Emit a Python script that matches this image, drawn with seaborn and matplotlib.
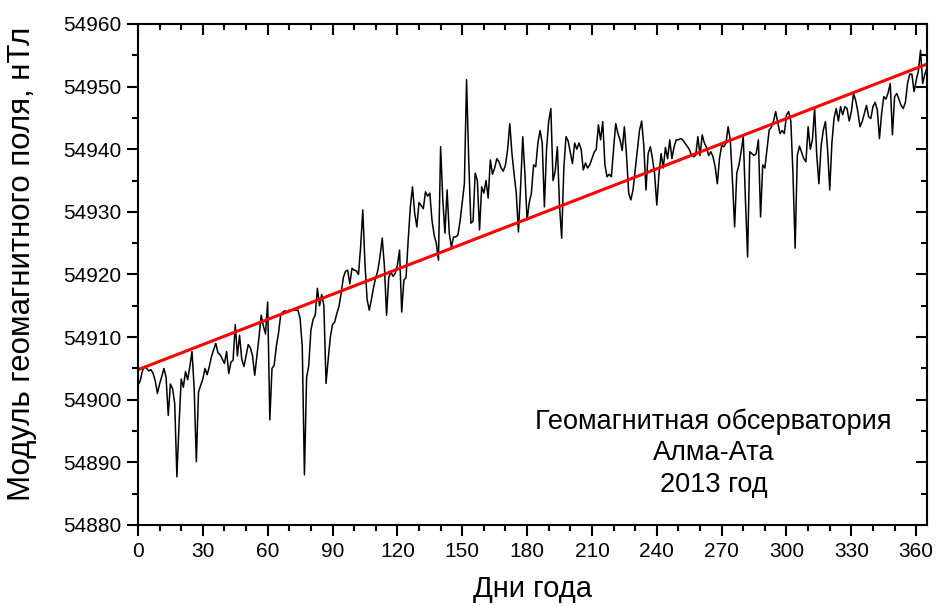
import numpy as np
import pandas as pd
import matplotlib
matplotlib.use("Agg")
import matplotlib.pyplot as plt
import seaborn as sns
from matplotlib.ticker import MultipleLocator

# Daily values of the geomagnetic field modulus, nT (day 0..365)
field_values = [
    54902.3, 54903.0, 54904.5, 54905.3, 54905.0, 54904.6, 54904.8, 54904.2, 54903.0, 54901.0,
    54902.5, 54903.7, 54905.0, 54903.6, 54897.5, 54902.5, 54901.8, 54899.4, 54887.7, 54896.0,
    54903.3, 54902.0, 54904.5, 54903.2, 54905.3, 54907.7, 54901.8, 54890.1, 54901.2, 54902.3,
    54903.3, 54905.0, 54904.0, 54905.3, 54906.9, 54908.0, 54909.0, 54907.5, 54907.2, 54906.5,
    54905.8, 54907.7, 54904.2, 54906.0, 54906.3, 54912.0, 54907.0, 54910.3, 54906.5, 54905.3,
    54907.0, 54908.8, 54908.3, 54907.0, 54903.9, 54907.0, 54910.0, 54913.5, 54911.8, 54910.5,
    54915.6, 54896.8, 54905.0, 54905.5, 54908.5, 54910.6, 54913.5, 54914.0, 54914.2, 54914.0,
    54914.3, 54914.3, 54914.3, 54914.3, 54914.3, 54913.0, 54908.5, 54888.0, 54903.5, 54905.5,
    54911.1, 54912.8, 54913.5, 54917.8, 54915.0, 54916.8, 54915.0, 54902.6, 54906.5, 54910.0,
    54912.0, 54912.4, 54913.8, 54914.9, 54917.0, 54919.5, 54920.5, 54920.7, 54918.5, 54921.0,
    54920.7, 54920.6, 54920.0, 54924.4, 54930.3, 54921.8, 54916.0, 54914.3, 54916.0, 54918.0,
    54919.5, 54920.7, 54923.0, 54925.8, 54921.3, 54913.5, 54919.5, 54920.4, 54919.7, 54920.2,
    54921.5, 54923.9, 54914.0, 54919.1, 54919.5, 54925.5, 54930.8, 54934.0, 54929.8, 54927.6,
    54931.5, 54931.0, 54930.5, 54933.2, 54932.5, 54933.0, 54928.7, 54926.3, 54925.0, 54922.3,
    54940.4, 54932.0, 54926.6, 54933.5, 54926.6, 54924.4, 54926.0, 54926.0, 54926.3, 54928.5,
    54931.5, 54934.5, 54951.1, 54938.3, 54928.2, 54928.5, 54936.2, 54935.0, 54927.1, 54934.0,
    54933.0, 54935.0, 54932.2, 54938.3, 54936.0, 54937.0, 54938.5, 54938.0, 54937.0, 54936.5,
    54937.5, 54940.0, 54944.1, 54939.3, 54936.0, 54933.0, 54926.8, 54934.0, 54942.0, 54936.0,
    54928.7, 54931.5, 54933.0, 54937.5, 54937.2, 54941.0, 54943.0, 54941.0, 54930.8, 54940.0,
    54944.5, 54946.5, 54935.0, 54936.5, 54940.4, 54931.0, 54925.8, 54937.0, 54942.0, 54941.3,
    54939.5, 54937.7, 54941.0, 54940.0, 54941.0, 54940.0, 54936.7, 54937.8, 54937.0, 54937.5,
    54938.5, 54939.5, 54940.0, 54943.9, 54941.5, 54944.4, 54937.5, 54935.6, 54936.0, 54935.6,
    54940.0, 54944.1, 54942.5, 54941.5, 54939.8, 54943.6, 54939.0, 54933.0, 54931.9, 54933.5,
    54936.7, 54940.0, 54943.0, 54944.5, 54940.5, 54933.5, 54939.3, 54940.4, 54938.5, 54936.0,
    54931.1, 54936.0, 54939.3, 54937.0, 54940.3, 54938.5, 54941.5, 54938.5, 54940.4, 54941.5,
    54941.5, 54941.7, 54941.5, 54941.0, 54940.5, 54940.0, 54939.1, 54938.8, 54939.0, 54942.0,
    54939.0, 54942.3, 54941.0, 54940.3, 54939.0, 54939.6, 54938.8, 54937.2, 54934.5, 54938.5,
    54940.6, 54940.4, 54941.0, 54943.6, 54941.5, 54935.0, 54927.6, 54936.2, 54937.5, 54939.6,
    54942.0, 54932.0, 54922.8, 54939.6, 54939.3, 54939.0, 54939.3, 54941.5, 54929.2, 54937.5,
    54937.0, 54940.0, 54943.1, 54943.5, 54944.5, 54946.0, 54944.2, 54942.5, 54943.0, 54942.5,
    54945.5, 54946.0, 54944.5, 54936.0, 54924.2, 54939.0, 54940.5, 54939.5, 54938.5, 54938.0,
    54943.6, 54940.0, 54941.5, 54946.5, 54939.0, 54934.5, 54940.5, 54943.0, 54944.4, 54940.0,
    54933.5, 54941.0, 54945.0, 54946.5, 54944.5, 54946.8, 54945.5, 54946.8, 54946.5, 54944.5,
    54946.0, 54948.9, 54947.8, 54946.0, 54943.6, 54944.4, 54945.7, 54947.0, 54945.2, 54944.9,
    54946.8, 54947.5, 54946.3, 54941.7, 54945.7, 54948.4, 54948.0, 54949.0, 54950.5, 54942.3,
    54948.4, 54948.9, 54948.0, 54947.0, 54946.5, 54947.5, 54950.5, 54952.0, 54952.0, 54949.2,
    54951.0, 54952.5, 54955.8, 54950.5, 54952.0, 54953.0,
]
days = list(range(len(field_values)))

# Linear trend (red line), endpoints
trend_days = [0, 365]
trend_values = [54904.8, 54953.6]

annotation = "Геомагнитная обсерватория\nАлма-Ата\n2013 год"

sns.set_theme(style="ticks")
plt.rcParams["font.family"] = ["Liberation Sans", "DejaVu Sans"]
plt.rcParams.update({
    "text.color": "black",
    "axes.labelcolor": "black",
    "xtick.color": "black",
    "ytick.color": "black",
})

fig = plt.figure(figsize=(9.36, 6.06), dpi=100)
ax = fig.add_axes([0.1474, 0.1337, 0.843, 0.8267])

data = pd.DataFrame({"day": days, "value": field_values})
trend = pd.DataFrame({"day": trend_days, "value": trend_values})

sns.lineplot(data=data, x="day", y="value", ax=ax, color="black", linewidth=1.1)
sns.lineplot(data=trend, x="day", y="value", ax=ax, color="#ff0000", linewidth=2.2)

ax.set_xlim(0, 365)
ax.set_ylim(54880, 54960)
ax.xaxis.set_major_locator(MultipleLocator(30))
ax.xaxis.set_minor_locator(MultipleLocator(10))
ax.yaxis.set_major_locator(MultipleLocator(10))
ax.yaxis.set_minor_locator(MultipleLocator(5))

for side in ["left", "right", "top", "bottom"]:
    ax.spines[side].set_visible(True)
    ax.spines[side].set_linewidth(1.5)
    ax.spines[side].set_color("black")

ax.tick_params(which="both", direction="out", bottom=True, left=True,
               top=False, right=False, colors="black", width=1.5)
ax.tick_params(which="major", length=8, labelsize=15, pad=4)
ax.tick_params(which="minor", length=4)

# Mirror ticks on top/right pointing inward
ax_top = ax.secondary_xaxis("top")
ax_top.xaxis.set_major_locator(MultipleLocator(30))
ax_top.xaxis.set_minor_locator(MultipleLocator(10))
ax_top.tick_params(which="both", direction="in", labeltop=False, width=1.5)
ax_top.tick_params(which="major", length=8)
ax_top.tick_params(which="minor", length=4)
ax_top.spines["top"].set_visible(False)
ax_right = ax.secondary_yaxis("right")
ax_right.yaxis.set_major_locator(MultipleLocator(10))
ax_right.yaxis.set_minor_locator(MultipleLocator(5))
ax_right.tick_params(which="both", direction="in", labelright=False, width=1.5)
ax_right.tick_params(which="major", length=8)
ax_right.tick_params(which="minor", length=4)
ax_right.spines["right"].set_visible(False)

ax.yaxis.set_major_formatter(plt.FormatStrFormatter("%d"))
ax.set_xlabel("Дни года", fontsize=21)
ax.set_ylabel("Модуль геомагнитного поля, нТл", fontsize=22.5)
ax.xaxis.set_label_coords(0.5, -0.10)
ax.yaxis.set_label_coords(-0.128, 0.522)
ax.grid(False)

ax.text(0.7294, 0.1437, annotation, transform=ax.transAxes, ha="center", va="center",
        fontsize=19.5, linespacing=1.28)

fig.savefig("out.png", dpi=100)
